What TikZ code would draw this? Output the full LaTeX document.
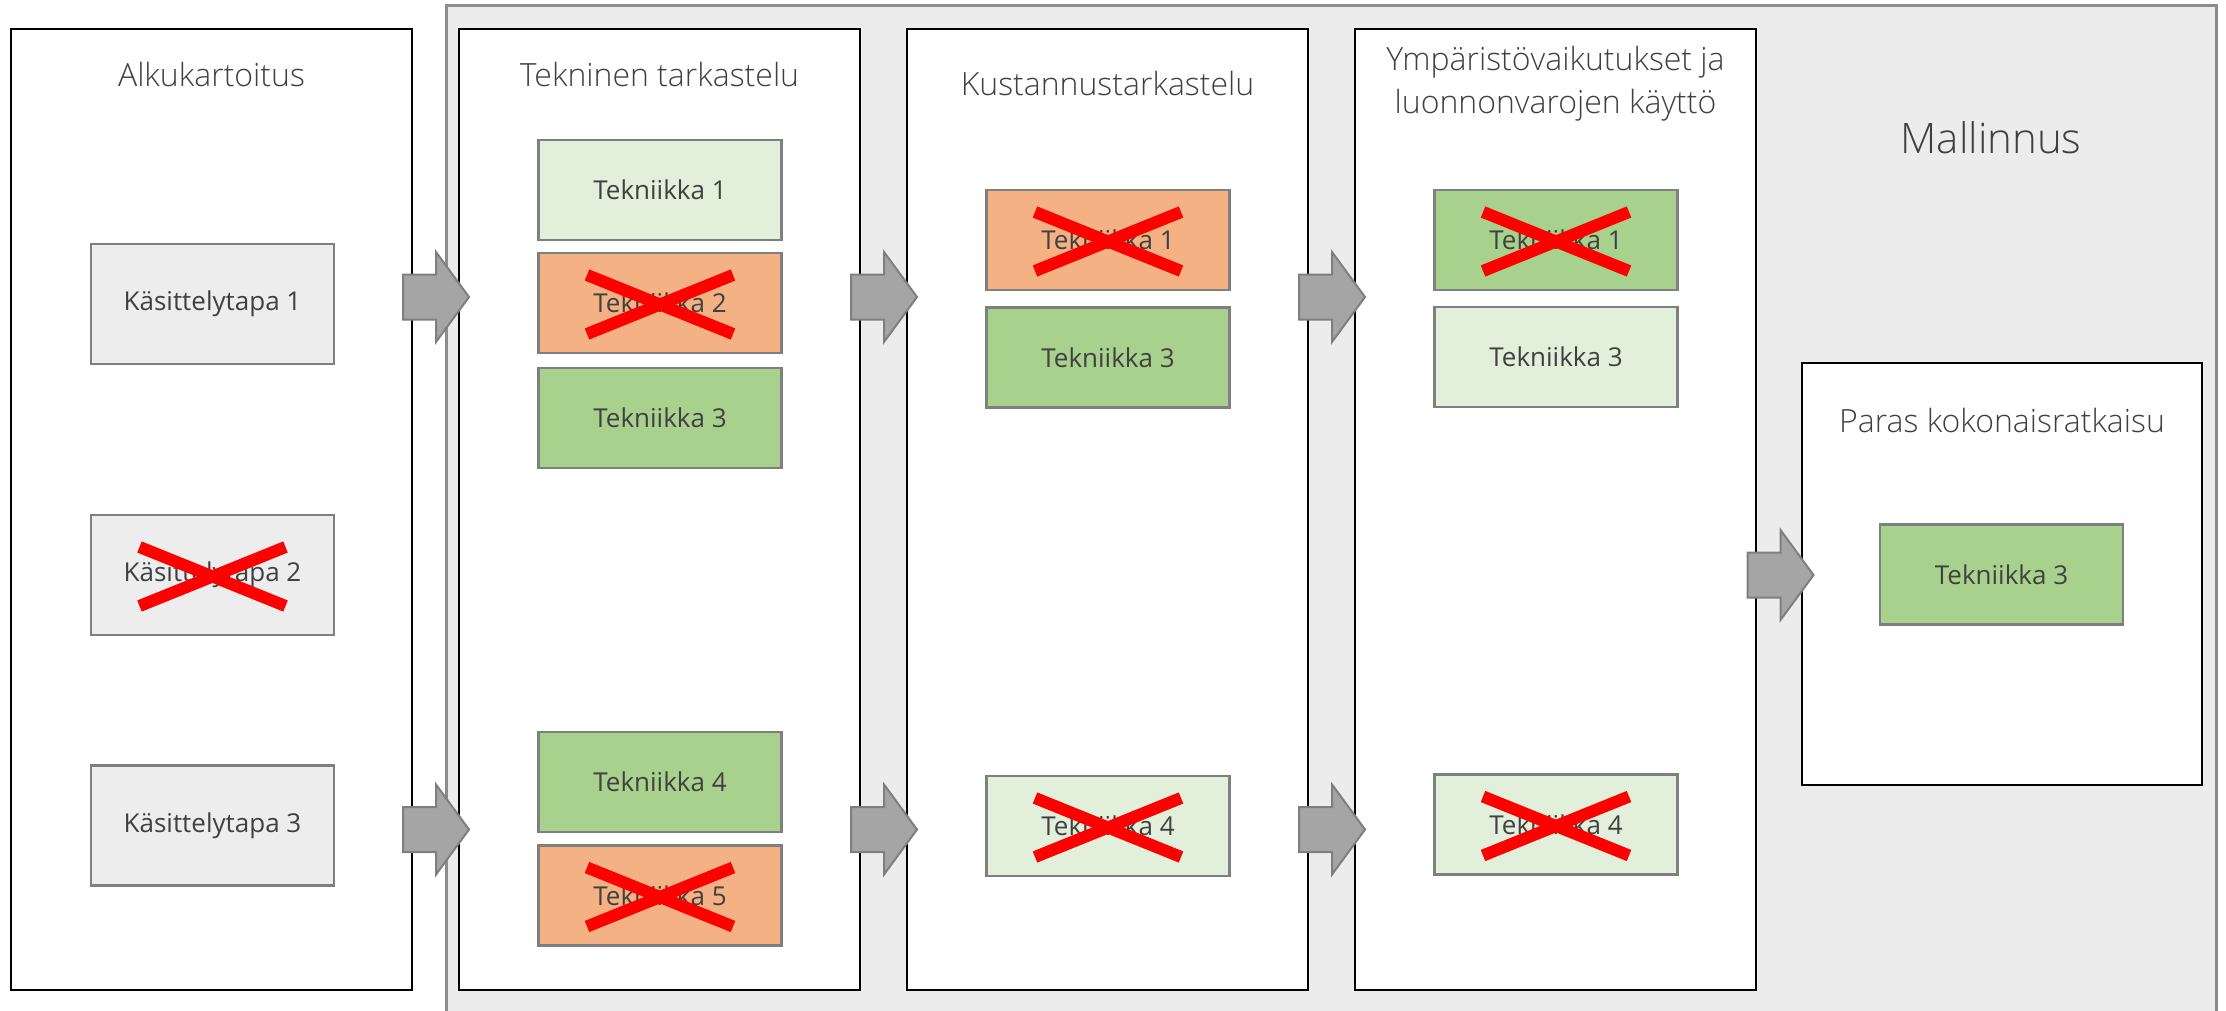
\documentclass[tikz,border=0pt]{standalone}
\usepackage{fontspec}
\setmainfont{Open Sans}
\newfontfamily\lightfont{Open Sans Light}
\definecolor{txt}{HTML}{404040}
\definecolor{bggrey}{HTML}{ECECEC}
\definecolor{bgline}{HTML}{8C8C8C}
\definecolor{boxline}{HTML}{7F7F7F}
\definecolor{lgreen}{HTML}{E2EFDA}
\definecolor{dgreen}{HTML}{A9D18E}
\definecolor{orng}{HTML}{F4B183}
\definecolor{lgrey}{HTML}{EDEDED}
\definecolor{arrfill}{HTML}{A5A5A5}
\newcommand\blkarrow[1]{%
  \draw[blockarrow] ([shift={(-33,-22.5)}]#1) -- ([shift={(0,-22.5)}]#1) -- ([shift={(0,-45)}]#1)
    -- ([shift={(33,0)}]#1) -- ([shift={(0,45)}]#1) -- ([shift={(0,22.5)}]#1)
    -- ([shift={(-33,22.5)}]#1) -- cycle;}
\begin{document}
\begin{tikzpicture}[x=1pt,y=-1pt,
  panel/.style={draw=black,line width=1.5pt,fill=white,minimum width=401pt,minimum height=961pt,inner sep=0pt},
  ttl/.style={text=txt,font=\lightfont\fontsize{32}{43}\selectfont,align=center,inner sep=0pt},
  tbox/.style={draw=boxline,line width=2.5pt,minimum width=243pt,minimum height=100pt,inner sep=0pt,text=txt,font=\fontsize{26}{30}\selectfont},
  kbox/.style={tbox,fill=lgrey,minimum height=120pt},
  lg/.style={tbox,fill=lgreen},
  dg/.style={tbox,fill=dgreen},
  og/.style={tbox,fill=orng},
  blockarrow/.style={draw=boxline,fill=arrfill,line width=2pt,line join=miter},
  redx/.style={draw=red,line width=12pt,line cap=butt}]
\path[use as bounding box] (0,0) rectangle (2226,1011);
% grey modelling area
\fill[bggrey] (446,6) rectangle (2216,1011);
\draw[bgline,line width=3pt] (446,1011) |- (2216,6) -- (2216,1011);
% panels
\node[panel] (p1) at (211.5,509.5) {};
\node[panel] (p2) at (659.5,509.5) {};
\node[panel] (p3) at (1107.5,509.5) {};
\node[panel] (p4) at (1555.5,509.5) {};
\node[panel,minimum height=422pt,minimum width=400pt] (p5) at (2002,574) {};
% titles
\node[ttl] (t1) at (211.5,75) {Alkukartoitus};
\node[ttl] (t2) at (659.5,75) {Tekninen tarkastelu};
\node[ttl] (t3) at (1107.5,84) {Kustannustarkastelu};
\node[ttl] (t4) at (1555.5,83.5) {Ympäristövaikutukset ja\\luonnonvarojen käyttö};
\node[ttl] (t5) at (2002,420) {Paras kokonaisratkaisu};
\node[text=txt,font=\lightfont\fontsize{42}{48}\selectfont,inner sep=0pt] (mal) at (1991,138) {Mallinnus};
% column 1
\node[kbox] (k1) at (212.5,304) {Käsittelytapa 1};
\node[kbox] (k2) at (212.5,575) {Käsittelytapa 2};
\node[kbox] (k3) at (212.5,825.5) {Käsittelytapa 3};
% column 2
\node[lg] (b21) at (660,190) {Tekniikka 1};
\node[og] (b22) at (660,303) {Tekniikka 2};
\node[dg] (b23) at (660,418) {Tekniikka 3};
\node[dg] (b24) at (660,782) {Tekniikka 4};
\node[og] (b25) at (660,895.5) {Tekniikka 5};
% column 3
\node[og] (b31) at (1108,240) {Tekniikka 1};
\node[dg] (b33) at (1108,357.5) {Tekniikka 3};
\node[lg] (b34) at (1108,826) {Tekniikka 4};
% column 4
\node[dg] (b41) at (1556,240) {Tekniikka 1};
\node[lg] (b43) at (1556,357) {Tekniikka 3};
\node[lg] (b44) at (1556,824.5) {Tekniikka 4};
% result
\node[dg] (b53) at (2001.5,574.5) {Tekniikka 3};
% block arrows
\coordinate (a1) at (436,297);
\coordinate (a2) at (884,297);
\coordinate (a3) at (1332,297);
\coordinate (a4) at (436,829.5);
\coordinate (a5) at (884,829.5);
\coordinate (a6) at (1332,829.5);
\coordinate (a7) at (1780.5,575);
\foreach \a in {a1,a2,a3,a4,a5,a6,a7}{\blkarrow{\a}}
% crosses
\foreach \b in {k2,b22,b25,b31,b41,b34,b44}{
  \draw[redx] ([shift={(-73,-28)}]\b.center) -- ([shift={(73,31)}]\b.center);
  \draw[redx] ([shift={(73,-28)}]\b.center) -- ([shift={(-73,31)}]\b.center);
}
\end{tikzpicture}
\end{document}
